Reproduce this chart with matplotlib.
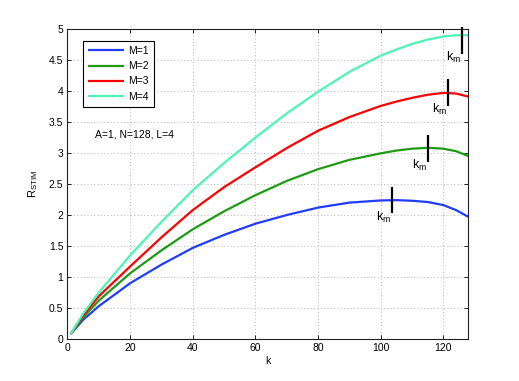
import matplotlib
matplotlib.use("Agg")
import matplotlib.pyplot as plt

# ---- data ----
k_pts = [1, 5, 10, 20, 30, 40, 50, 60, 70, 80, 90, 100, 105, 110, 115, 120, 124, 128]
r_m1 = [0.08, 0.31, 0.53, 0.90, 1.20, 1.47, 1.68, 1.86, 2.00, 2.12, 2.20, 2.235, 2.24, 2.23, 2.21, 2.16, 2.08, 1.97]
r_m2 = [0.08, 0.35, 0.62, 1.06, 1.43, 1.77, 2.06, 2.32, 2.55, 2.74, 2.89, 2.995, 3.04, 3.07, 3.085, 3.07, 3.03, 2.95]
r_m3 = [0.08, 0.38, 0.69, 1.17, 1.64, 2.08, 2.45, 2.77, 3.08, 3.36, 3.58, 3.76, 3.83, 3.89, 3.94, 3.97, 3.96, 3.91]
r_m4 = [0.08, 0.41, 0.75, 1.35, 1.89, 2.40, 2.84, 3.25, 3.64, 3.99, 4.31, 4.57, 4.67, 4.76, 4.83, 4.88, 4.90, 4.90]
labels = ["M=1", "M=2", "M=3", "M=4"]
colors = ["#1f3cff", "#1f9a12", "#ff0000", "#4cf5b4"]

km_k = [103.5, 115.0, 121.5, 125.8]
km_r = [2.24, 3.07, 3.98, 4.82]
km_half = 0.215

annotation = "A=1, N=128, L=4"
xticks = [0, 20, 40, 60, 80, 100, 120]
yticks = [0, 0.5, 1, 1.5, 2, 2.5, 3, 3.5, 4, 4.5, 5]

plt.rcParams['font.family'] = ['Liberation Sans', 'DejaVu Sans']
plt.rcParams['font.size'] = 7.5

fig = plt.figure(figsize=(5.19, 3.81), dpi=100)
ax = fig.add_axes([0.130, 0.1102, 0.7726, 0.8136])

for ys, lab, c in zip([r_m1, r_m2, r_m3, r_m4], labels, colors):
    ax.plot(k_pts, ys, color=c, lw=1.6, label=lab, solid_capstyle='butt')

for kk, rr in zip(km_k, km_r):
    ax.plot([kk, kk], [rr - km_half, rr + km_half], color='black', lw=1.6,
            clip_on=False, solid_capstyle='butt')
    ax.text(kk - 0.3, rr - km_half + 0.06, r'$\mathregular{k_m}$', ha='right', va='top',
            fontsize=9)

ax.text(8.8, 3.30, annotation, ha='left', va='center', fontsize=7.5)

ax.set_xlim(0, 128)
ax.set_ylim(0, 5)
ax.set_xticks(xticks)
ax.set_yticks(yticks)
ax.set_yticklabels([("%g" % v) for v in yticks])
ax.tick_params(direction='in', length=3, width=0.6, top=True, right=True, pad=3)
ax.grid(True, linestyle=(0, (1, 3)), color='#a0a0a0', lw=0.6)
for s in ax.spines.values():
    s.set_linewidth(0.8)
    s.set_color('#222222')

ax.set_xlabel('k', labelpad=2)
ax.set_ylabel(r'$\mathregular{R_{STIM}}$', labelpad=6, fontsize=8)

leg = ax.legend(loc='upper left', bbox_to_anchor=(0.039, 0.962), borderaxespad=0,
                fancybox=False, edgecolor='black', framealpha=1, handlelength=3.4,
                labelspacing=0.5, handletextpad=0.4, borderpad=0.5)
leg.get_frame().set_linewidth(0.8)

fig.savefig("out.png", dpi=100)
